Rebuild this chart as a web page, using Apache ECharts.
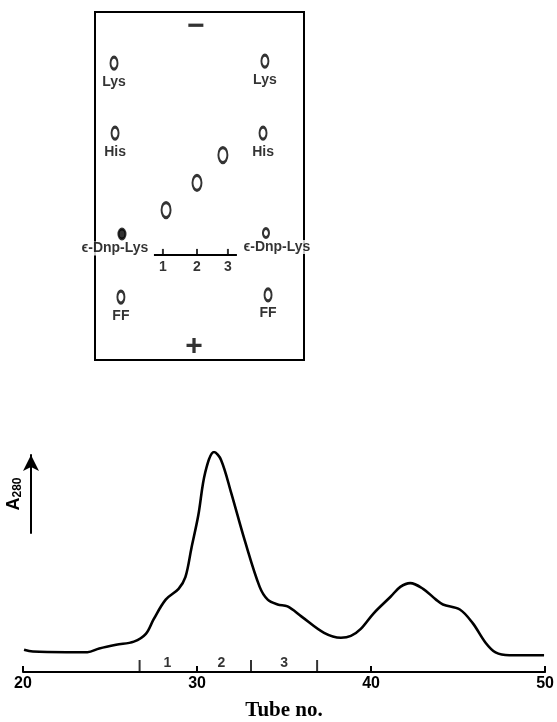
<!DOCTYPE html>
<html>
<head>
<meta charset="utf-8">
<script src="https://cdn.jsdelivr.net/npm/echarts/dist/echarts.min.js"></script>
<style>
  html, body { margin: 0; padding: 0; background: #fff; }
  #chart { width: 557px; height: 722px; }
</style>
</head>
<body>
<div id="chart"></div>
<script>
// elution profile (A280 vs tube no.)
const tubeNo = [20.06, 20.57, 22.5, 23.7, 24.38, 25.35, 26.37, 27.06, 27.51, 28.2,
  28.94, 29.33, 29.68, 30.07, 30.47, 30.98, 31.38, 31.95, 32.75, 33.6,
  34.06, 34.63, 35.2, 35.99, 37.3, 38.27, 38.84, 39.41, 40.15, 41.12,
  41.68, 42.25, 42.99, 43.73, 44.13, 45.1, 45.84, 46.58, 47.15, 47.95, 49.94]
const a280 = [0.101, 0.093, 0.090, 0.090, 0.107, 0.124, 0.138, 0.173, 0.240, 0.329,
  0.378, 0.431, 0.564, 0.711, 0.907, 1.000, 0.964, 0.818, 0.596, 0.387,
  0.329, 0.307, 0.298, 0.253, 0.178, 0.156, 0.164, 0.196, 0.267, 0.342,
  0.387, 0.404, 0.378, 0.329, 0.307, 0.284, 0.222, 0.133, 0.089, 0.076, 0.076]

// pooled fractions
const fractionCuts = [26.7, 33.1, 36.9]
const fractionNames = ['1', '2', '3']
const fractionMid = [28.3, 31.4, 35.0]

// electrophoresis plate (0-100 across, 0-100 from cathode to anode)
const markerNames = ['Lys', 'Lys', 'His', 'His', 'ϵ-Dnp-Lys', 'ϵ-Dnp-Lys', 'FF', 'FF']
const markerX = [9.1, 81.3, 9.6, 80.4, 12.9, 81.8, 12.4, 82.8]
const markerY = [14.7, 14.1, 34.8, 34.8, 63.8, 63.5, 81.9, 81.3]
const sampleX = [34.0, 48.8, 61.2]
const sampleY = [56.9, 49.1, 41.1]
const scaleTickX = [32.5, 48.8, 63.6]
const scaleSpan = [28.2, 67.9]
const scaleY = 69.8
const electrodes = ['−', '+']
const electrodeX = [48.3, 47.4]
const electrodeY = [4.3, 96.3]

const black = '#000'
const sans = 'Liberation Sans'

/* label offsets for the two Dnp-Lys markers */
const markerLabelOffset = { 4: [-7, 0], 5: [11, 0] }

const myChart = echarts.init(document.getElementById('chart'))

const option = {
  backgroundColor: '#fff',
  animation: false,
  grid: [
    { left: 23, right: 7, top: 452, bottom: 45 }, //profile
    { left: 95, top: 12, width: 209, height: 348, show: true, borderColor: black, borderWidth: 2, backgroundColor: 'transparent' }, //plate
    { left: 31, top: 455, width: 1, height: 78 } //A280 arrow
  ],
  xAxis: [
    {
      type: 'value', gridIndex: 0, min: 20, max: 50, interval: 10,
      axisLine: { lineStyle: { color: black, width: 2 } },
      axisTick: { inside: true, length: 6, lineStyle: { color: black, width: 2 } },
      axisLabel: { color: black, fontSize: 16, fontWeight: 'bold', fontFamily: sans, margin: 4 },
      splitLine: { show: false },
      name: 'Tube no.', nameLocation: 'middle', nameGap: 28,
      nameTextStyle: { color: black, fontFamily: 'Liberation Serif', fontSize: 21, fontWeight: 'bold' }
    },
    { type: 'value', gridIndex: 1, min: 0, max: 100, show: false },
    { type: 'value', gridIndex: 2, min: 0, max: 1, show: false }
  ],
  yAxis: [
    { type: 'value', gridIndex: 0, min: 0, max: 1, show: false },
    { type: 'value', gridIndex: 1, min: 0, max: 100, inverse: true, show: false },
    {
      type: 'value', gridIndex: 2, min: 0, max: 1,
      axisLine: { show: true, symbol: ['none', 'arrow'], symbolSize: [12, 16], lineStyle: { color: black, width: 2 } },
      axisTick: { show: false }, axisLabel: { show: false }, splitLine: { show: false },
      name: '{a|A}{s|280}', nameLocation: 'middle', nameRotate: 90, nameGap: 7,
      nameTextStyle: {
        color: black,
        padding: [0, 0, 0, 0],
        rich: {
          a: { fontFamily: sans, fontSize: 18, fontWeight: 'bold', color: black, lineHeight: 20 },
          s: { fontFamily: sans, fontSize: 12, fontWeight: 'bold', color: black, lineHeight: 20, padding: [7, 0, 0, 0] }
        }
      }
    }
  ],
  series: [
    {
      type: 'line', xAxisIndex: 0, yAxisIndex: 0,
      data: tubeNo.map((t, i) => [t, a280[i]]),
      smooth: 0.35, showSymbol: false,
      lineStyle: { color: black, width: 2.6 }
    },
    {
      type: 'scatter', xAxisIndex: 0, yAxisIndex: 0,
      data: fractionCuts.map(t => [t, 0]),
      symbol: 'rect', symbolSize: [2, 12], symbolOffset: [0, -6],
      itemStyle: { color: black }
    },
    {
      type: 'scatter', xAxisIndex: 0, yAxisIndex: 0,
      data: fractionMid.map((t, i) => ({ name: fractionNames[i], value: [t, 0] })),
      symbolSize: 0,
      label: { show: true, position: 'inside', offset: [0, -9], formatter: '{b}', color: black, fontFamily: sans, fontSize: 14, fontWeight: 'bold' }
    },
    //plate: reference markers
    {
      type: 'scatter', xAxisIndex: 1, yAxisIndex: 1,
      data: markerNames.map((n, i) => ({
        name: n,
        value: [markerX[i], markerY[i]],
        symbolSize: i === 4 ? [7, 10] : i === 5 ? [6, 9] : [7, 12],
        itemStyle: i === 4 ? { color: black } : undefined,
        label: markerLabelOffset[i] ? { offset: markerLabelOffset[i], distance: 1 } : undefined
      })),
      symbol: 'circle',
      itemStyle: { color: '#fff', borderColor: black, borderWidth: 2.5 },
      label: {
        show: true, position: 'bottom', distance: 4, formatter: '{b}',
        color: black, fontFamily: sans, fontSize: 14, fontWeight: 'bold',
        backgroundColor: '#fff'
      }
    },
    //plate: sample spots
    {
      type: 'scatter', xAxisIndex: 1, yAxisIndex: 1,
      data: sampleX.map((x, i) => [x, sampleY[i]]),
      symbol: 'circle', symbolSize: [9, 15],
      itemStyle: { color: '#fff', borderColor: black, borderWidth: 2.5 }
    },
    //plate: sample scale
    {
      type: 'line', xAxisIndex: 1, yAxisIndex: 1,
      data: scaleSpan.map(x => [x, scaleY]),
      showSymbol: false, lineStyle: { color: black, width: 2 }
    },
    {
      type: 'scatter', xAxisIndex: 1, yAxisIndex: 1,
      data: scaleTickX.map((x, i) => ({ name: fractionNames[i], value: [x, scaleY] })),
      symbol: 'rect', symbolSize: [2, 6], symbolOffset: [0, -3],
      itemStyle: { color: black },
      label: { show: true, position: 'bottom', distance: 5, formatter: '{b}', color: black, fontFamily: sans, fontSize: 14, fontWeight: 'bold' }
    },
    //plate: electrodes
    {
      type: 'scatter', xAxisIndex: 1, yAxisIndex: 1,
      data: electrodes.map((e, i) => ({ name: e, value: [electrodeX[i], electrodeY[i]] })),
      symbolSize: 0,
      label: { show: true, position: 'inside', formatter: '{b}', color: black, fontFamily: sans, fontSize: 30, fontWeight: 'bold' }
    }
  ]
}

myChart.setOption(option)
</script>
</body>
</html>
